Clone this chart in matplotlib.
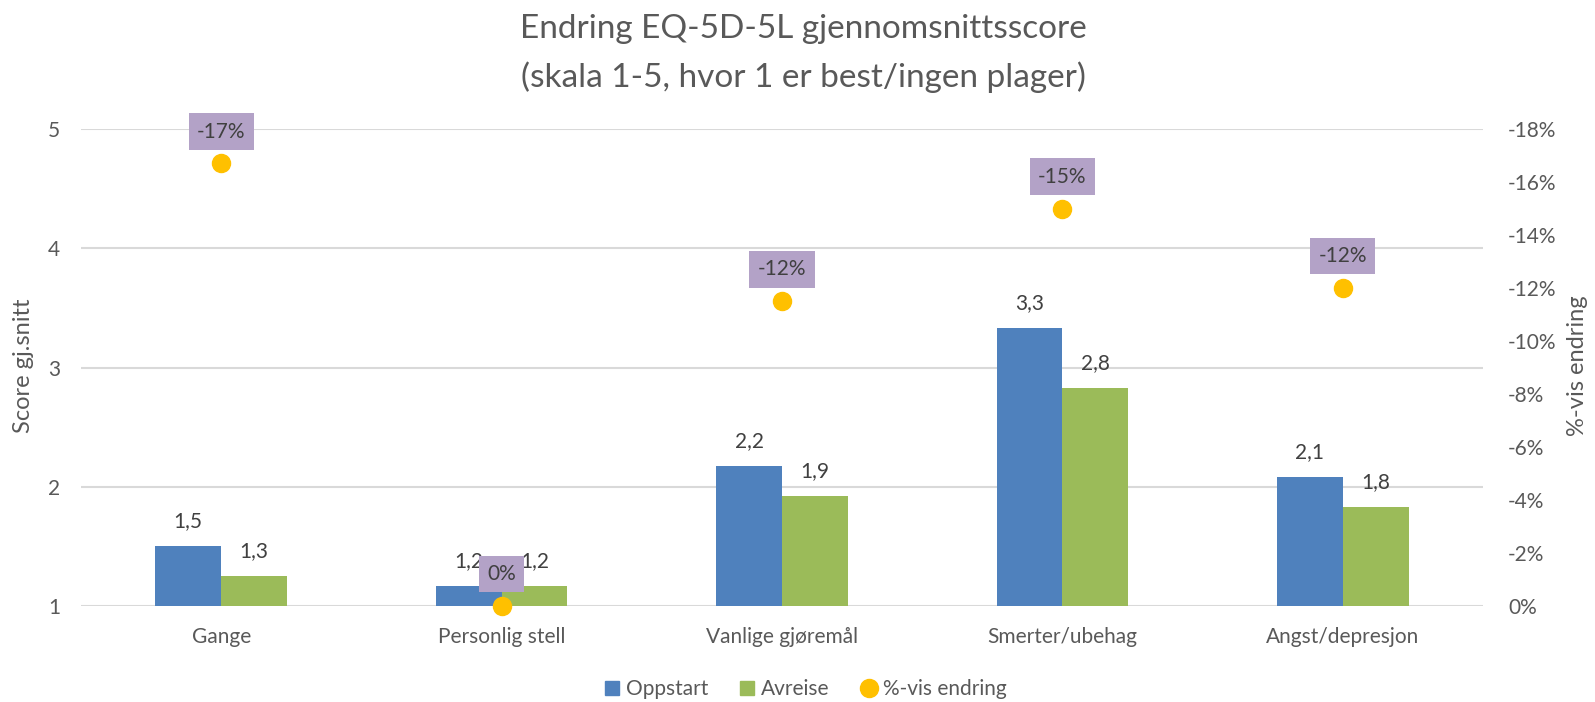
import numpy as np
import matplotlib
matplotlib.use("Agg")
import matplotlib.pyplot as plt
from matplotlib.lines import Line2D
from matplotlib.ticker import FuncFormatter

# data
kategorier = ["Gange", "Personlig stell", "Vanlige gjøremål", "Smerter/ubehag", "Angst/depresjon"]
oppstart = [1.50, 1.17, 2.17, 3.33, 2.08]
avreise = [1.25, 1.17, 1.92, 2.83, 1.83]
endring = [-0.167, 0.0, -0.115, -0.150, -0.120]

blue = "#4F81BD"
green = "#9BBB59"
orange = "#FFC000"
purple = "#B3A2C7"
grey = "#595959"
dark = "#404040"

plt.rcParams["font.family"] = ["Lato", "DejaVu Sans"]

fig = plt.figure(figsize=(15.95, 7.02), dpi=100)
ax = fig.add_axes([81 / 1595, 1 - 606 / 702, 1402 / 1595, 477 / 702])
ax2 = ax.twinx()

x = np.arange(len(kategorier))
w = 0.235

ax.bar(x - w / 2, oppstart, w, color=blue, zorder=2)
ax.bar(x + w / 2, avreise, w, color=green, zorder=2)
ax.set_ylim(1, 5)
ax.set_xlim(-0.5, len(kategorier) - 0.5)
ax.set_yticks([1, 2, 3, 4, 5])
ax.yaxis.grid(True, color="#D9D9D9", linewidth=1.5, zorder=0)
ax.set_axisbelow(True)
ax.set_xticks(x)
ax.set_xticklabels(kategorier)
ax.tick_params(axis="x", length=0, pad=15, labelsize=15, colors=grey)
ax.tick_params(axis="y", length=0, pad=15, labelsize=15, colors=grey)

def fmt(v):
    return f"{v + 1e-9:.1f}".replace(".", ",")

def pct(v):
    return f"{round(v * 100):.0f}%" if abs(v) > 1e-9 else "0%"

for xs, vals in [(x - w / 2, oppstart), (x + w / 2, avreise)]:
    for xi, v in zip(xs, vals):
        ax.annotate(fmt(v), (xi, v), xytext=(0, 18), textcoords="offset points",
                    ha="center", va="center", fontsize=15, color=dark, zorder=3)

# right axis, inverted percent scale
ax2.set_ylim(0, -0.18)
ax2.set_yticks(np.arange(0, -0.19, -0.02))
ax2.yaxis.set_major_formatter(FuncFormatter(lambda v, p: pct(v)))
ax2.tick_params(axis="y", length=0, pad=18, labelsize=15, colors=grey)
ax2.plot(x, endring, "o", color=orange, markersize=13, zorder=4, clip_on=False)

for xi, v in zip(x, endring):
    ax2.annotate(pct(v), (xi, v), xytext=(0, 23), textcoords="offset points",
                 ha="center", va="center", fontsize=15, color=dark, zorder=5,
                 bbox=dict(boxstyle="square,pad=0.4", fc=purple, ec="none"))

for a in (ax, ax2):
    for s in a.spines.values():
        s.set_visible(False)

fig.text(803 / 1595, 1 - 53.5 / 702, "Endring EQ-5D-5L gjennomsnittsscore\n(skala 1-5, hvor 1 er best/ingen plager)",
         ha="center", va="center", fontsize=24, color=grey, linespacing=1.65)
fig.text(24 / 1595, 1 - 366 / 702, "Score gj.snitt", rotation=90, ha="center", va="center",
         fontsize=17, color=grey)
fig.text(1577 / 1595, 1 - 366 / 702, "%-vis endring", rotation=90, ha="center", va="center",
         fontsize=17, color=grey)

handles = [Line2D([], [], marker="s", ls="none", color=blue, markersize=10),
           Line2D([], [], marker="s", ls="none", color=green, markersize=10),
           Line2D([], [], marker="o", ls="none", color=orange, markersize=13)]
fig.legend(handles, ["Oppstart", "Avreise", "%-vis endring"], loc="center",
           bbox_to_anchor=(805 / 1595, 1 - 689 / 702), ncol=3, frameon=False,
           fontsize=15, labelcolor=grey, handlelength=0.8, handletextpad=0.25,
           columnspacing=1.5)

fig.savefig("out.png", dpi=100)
